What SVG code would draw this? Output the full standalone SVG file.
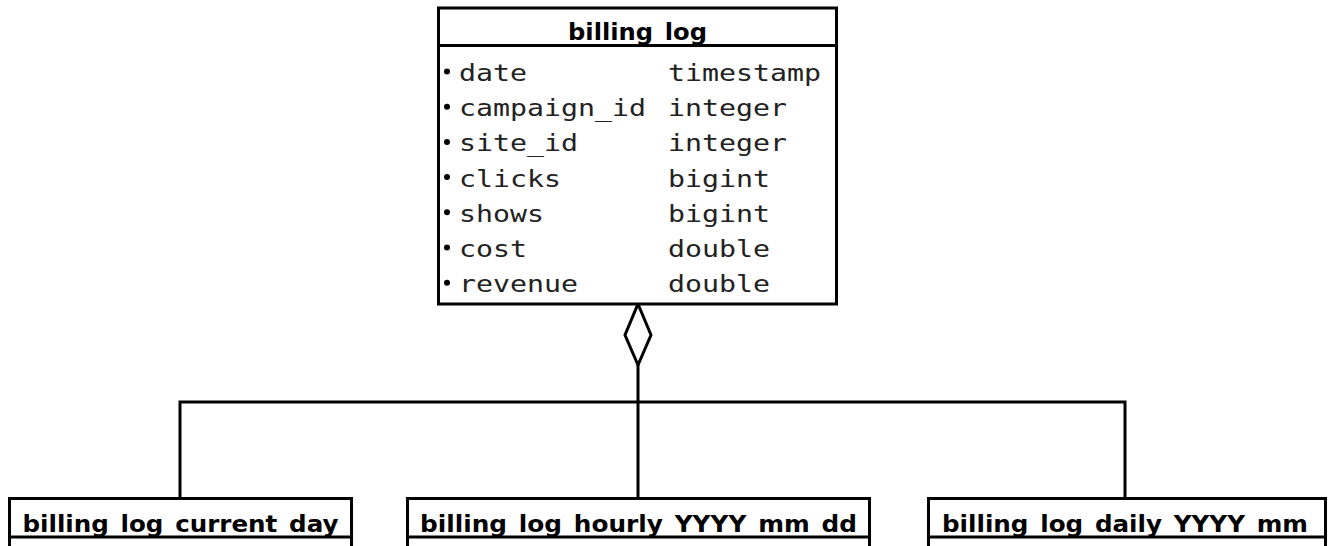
<svg xmlns="http://www.w3.org/2000/svg" width="1331" height="546" viewBox="0 0 1331 546">
  <style>
    .box { fill: #ffffff; stroke: #000000; stroke-width: 3; }
    .rule { stroke: #000000; stroke-width: 3; fill: none; }
    .title { font-family: "DejaVu Sans", "Liberation Sans", sans-serif; font-weight: bold; font-size: 23px; fill: #000000; text-anchor: middle; word-spacing: 3px; }
    .col { font-family: "DejaVu Sans Mono", "Liberation Mono", monospace; font-size: 23px; fill: #222222; }
    .dot { fill: #000000; }
    .link { stroke: #000000; stroke-width: 3; fill: none; }
    .agg { stroke: #000000; stroke-width: 3; fill: #ffffff; stroke-linejoin: miter; }
  </style>

  <rect x="0" y="0" width="1331" height="546" fill="#ffffff"/>

  <!-- connectors: aggregation from the partitions up to the parent table -->
  <g id="connectors">
    <polyline class="link" points="180,498 180,402 1125,402 1125,498"/>
    <line class="link" x1="638" y1="365" x2="638" y2="498"/>
    <polygon class="agg" points="638,304 651,335 638,365 625,335"/>
  </g>

  <!-- parent table -->
  <g id="billing_log">
    <rect class="box" x="438.5" y="8" width="398" height="296"/>
    <line class="rule" x1="438.5" y1="45.5" x2="836.5" y2="45.5"/>
    <text class="title" x="637.5" y="39.5" textLength="139" lengthAdjust="spacingAndGlyphs">billing log</text>
    <g>
      <circle class="dot" cx="447" cy="71.5" r="3"/>
      <text class="col" x="459" y="81" textLength="68" lengthAdjust="spacingAndGlyphs">date</text>
      <text class="col" x="668" y="81" textLength="153" lengthAdjust="spacingAndGlyphs">timestamp</text>

      <circle class="dot" cx="447" cy="106.7" r="3"/>
      <text class="col" x="459" y="116.2" textLength="187" lengthAdjust="spacingAndGlyphs">campaign_id</text>
      <text class="col" x="668" y="116.2" textLength="119" lengthAdjust="spacingAndGlyphs">integer</text>

      <circle class="dot" cx="447" cy="141.9" r="3"/>
      <text class="col" x="459" y="151.4" textLength="119" lengthAdjust="spacingAndGlyphs">site_id</text>
      <text class="col" x="668" y="151.4" textLength="119" lengthAdjust="spacingAndGlyphs">integer</text>

      <circle class="dot" cx="447" cy="177.1" r="3"/>
      <text class="col" x="459" y="186.6" textLength="102" lengthAdjust="spacingAndGlyphs">clicks</text>
      <text class="col" x="668" y="186.6" textLength="102" lengthAdjust="spacingAndGlyphs">bigint</text>

      <circle class="dot" cx="447" cy="212.3" r="3"/>
      <text class="col" x="459" y="221.8" textLength="85" lengthAdjust="spacingAndGlyphs">shows</text>
      <text class="col" x="668" y="221.8" textLength="102" lengthAdjust="spacingAndGlyphs">bigint</text>

      <circle class="dot" cx="447" cy="247.5" r="3"/>
      <text class="col" x="459" y="257" textLength="68" lengthAdjust="spacingAndGlyphs">cost</text>
      <text class="col" x="668" y="257" textLength="102" lengthAdjust="spacingAndGlyphs">double</text>

      <circle class="dot" cx="447" cy="282.7" r="3"/>
      <text class="col" x="459" y="292.2" textLength="119" lengthAdjust="spacingAndGlyphs">revenue</text>
      <text class="col" x="668" y="292.2" textLength="102" lengthAdjust="spacingAndGlyphs">double</text>
    </g>
  </g>

  <!-- partition tables -->
  <g id="billing_log_current_day">
    <rect class="box" x="9.5" y="498.5" width="342" height="80"/>
    <line class="rule" x1="9.5" y1="537" x2="351.5" y2="537"/>
    <text class="title" x="180.5" y="531.5" textLength="316" lengthAdjust="spacingAndGlyphs">billing log current day</text>
  </g>

  <g id="billing_log_hourly_YYYY_mm_dd">
    <rect class="box" x="407.5" y="498.5" width="462" height="80"/>
    <line class="rule" x1="407.5" y1="537" x2="869.5" y2="537"/>
    <text class="title" x="638.5" y="531.5" textLength="437" lengthAdjust="spacingAndGlyphs">billing log hourly YYYY mm dd</text>
  </g>

  <g id="billing_log_daily_YYYY_mm">
    <rect class="box" x="928.5" y="498.5" width="397" height="80"/>
    <line class="rule" x1="928.5" y1="537" x2="1325.5" y2="537"/>
    <text class="title" x="1125" y="531.5" textLength="366" lengthAdjust="spacingAndGlyphs">billing log daily YYYY mm</text>
  </g>
</svg>
